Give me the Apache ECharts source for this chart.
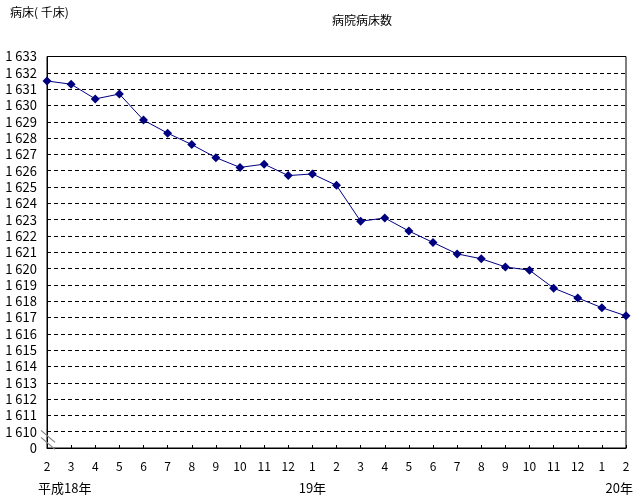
<!DOCTYPE html>
<html>
<head>
<meta charset="utf-8">
<script src="https://cdn.jsdelivr.net/npm/echarts@6/dist/echarts.min.js"></script>
<style>
html, body { margin: 0; padding: 0; background: #fff; }
#chart { width: 638px; height: 496px; }
</style>
</head>
<body>
<div id="chart"></div>
<script>
// 月（平成18年2月〜平成20年2月）
const months = ['2','3','4','5','6','7','8','9','10','11','12',
                '1','2','3','4','5','6','7','8','9','10','11','12',
                '1','2'];
// 病院病床数（千床）
const beds = [1631.5, 1631.3, 1630.4, 1630.7, 1629.1, 1628.3, 1627.6, 1626.8, 1626.2, 1626.4, 1625.7,
              1625.8, 1625.1, 1622.9, 1623.1, 1622.3, 1621.6, 1620.9, 1620.6, 1620.1, 1619.9, 1618.8,
              1618.2, 1617.6, 1617.1];
// 年ラベル
const yearLabels = ['平成18年', '19年', '20年'];
const yearIndex = [0, 11, 24];

const FONT = '"MS PGothic", "Noto Sans CJK JP", sans-serif';
const AXIS_BREAK = 1609;  // 「0」を表示する位置

const chart = echarts.init(document.getElementById('chart'));

chart.setOption({
    animation: false,
    backgroundColor: '#fff',
    textStyle: { fontFamily: FONT, color: '#000' },
    title: {
        text: '病院病床数',
        left: 357,
        top: 9,
        textAlign: 'center',
        textStyle: { fontSize: 12, fontWeight: 'normal', color: '#000', fontFamily: FONT }
    },
    grid: {
        left: 47, right: 12, top: 56.5, bottom: 48,
        show: true, borderColor: '#000', borderWidth: 1
    },
    xAxis: {
        type: 'category',
        data: months,
        boundaryGap: false,
        axisLine: { lineStyle: { color: '#000', width: 1 } },
        axisTick: { inside: true, length: 3, lineStyle: { color: '#000' } },
        axisLabel: { color: '#000', fontSize: 12, margin: 12, interval: 0 },
        splitLine: { show: false }
    },
    yAxis: {
        type: 'value',
        min: AXIS_BREAK,
        max: 1633,
        interval: 1,
        axisLine: { show: true, lineStyle: { color: '#000', width: 1 } },
        axisTick: { show: false },
        axisLabel: {
            color: '#000', fontSize: 13, margin: 10,
            formatter: function (v) {
                if (v === AXIS_BREAK) return '0';
                return String(v).replace(/^(\d)(\d{3})$/, '$1 $2');
            }
        },
        splitLine: { show: true, lineStyle: { color: '#000', type: [4, 3], width: 1 } }
    },
    series: [{
        name: '病院病床数',
        type: 'line',
        data: beds,
        symbol: 'diamond',
        symbolSize: 9,
        lineStyle: { color: '#000080', width: 1 },
        itemStyle: { color: '#000080' }
    }]
});

// 軸の省略記号と年ラベル
function drawExtras() {
    const graphics = [];
    const p0 = chart.convertToPixel({ seriesIndex: 0 }, [0, AXIS_BREAK]);
    const p1 = chart.convertToPixel({ seriesIndex: 0 }, [0, AXIS_BREAK + 1]);
    const step = p0[1] - p1[1];
    const bx = p0[0];
    const by = p1[1] + step * 0.5;
    [-3.5, 3.5].forEach(function (dy) {
        graphics.push({
            type: 'line',
            shape: { x1: bx - 6, y1: by + dy - 6, x2: bx + 8, y2: by + dy + 6 },
            style: { stroke: '#808080', lineWidth: 1.2 },
            z: 10
        });
    });

    const yLab = p0[1] + 40;
    const aligns = ['left', 'center', 'right'];
    const offs = [-9, 0, 7];
    yearLabels.forEach(function (t, i) {
        const px = chart.convertToPixel({ seriesIndex: 0 }, [yearIndex[i], AXIS_BREAK]);
        graphics.push({
            type: 'text',
            x: px[0] + offs[i],
            y: yLab,
            style: { text: t, fontSize: 13, fontFamily: FONT, fill: '#000', align: aligns[i], verticalAlign: 'middle' }
        });
    });

    graphics.push({
        type: 'text',
        x: 10,
        y: 12,
        style: { text: '病床( 千床)', fontSize: 12, fontFamily: FONT, fill: '#000', align: 'left', verticalAlign: 'middle' }
    });

    chart.setOption({ graphic: graphics });
}
drawExtras();

window.addEventListener('resize', function () {
    chart.resize();
    drawExtras();
});
</script>
</body>
</html>
